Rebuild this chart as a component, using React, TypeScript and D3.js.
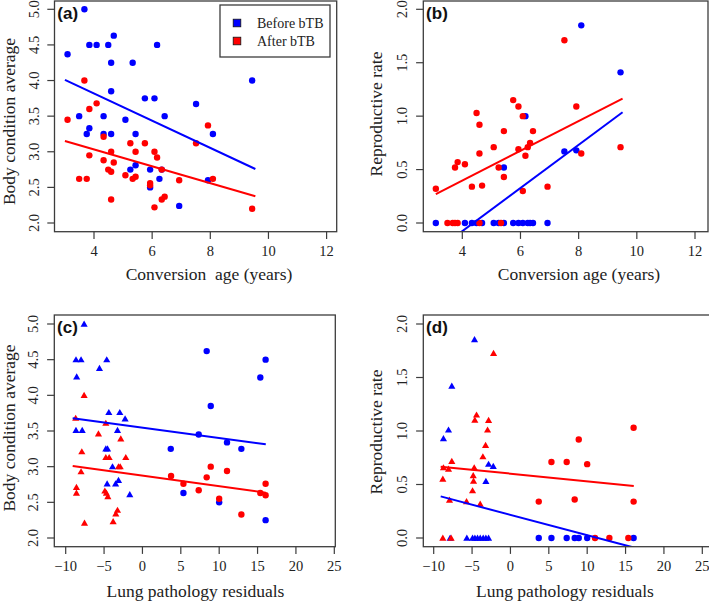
import React from "react";
import * as d3 from "d3";

// ---------- DATA ----------
// Panel (a): conversion age vs body condition average
const aBefore: [number, number][] = [
  [3.67, 5.0], [3.09, 4.37], [3.84, 4.5], [4.09, 4.5], [4.49, 4.5], [4.68, 4.63], [6.17, 4.5],
  [4.59, 4.25], [5.33, 4.25], [9.44, 4.0], [4.59, 3.85], [5.75, 3.75], [6.08, 3.75], [7.51, 3.67],
  [3.49, 3.5], [4.33, 3.5], [6.43, 3.5], [5.08, 3.45], [3.84, 3.33], [3.75, 3.25], [4.33, 3.25],
  [4.59, 3.25], [5.43, 3.25], [8.09, 3.25], [5.43, 2.81], [5.25, 2.75], [5.93, 2.75], [6.33, 2.75],
  [6.25, 2.62], [7.92, 2.6], [5.93, 2.5], [6.93, 2.24],
];
const aAfter: [number, number][] = [
  [3.67, 4.0], [3.84, 3.6], [4.09, 3.68], [3.09, 3.45], [4.33, 3.21], [5.25, 3.12], [5.75, 3.12],
  [7.51, 3.12], [7.92, 3.37], [4.59, 3.0], [5.43, 3.0], [6.08, 3.0], [3.84, 2.95], [6.17, 2.92],
  [4.33, 2.88], [4.68, 2.85], [4.49, 2.75], [4.59, 2.72], [6.33, 2.75], [5.08, 2.67], [5.33, 2.62],
  [5.43, 2.65], [3.49, 2.62], [3.75, 2.62], [8.09, 2.62], [6.93, 2.6], [5.93, 2.56], [5.93, 2.53],
  [4.59, 2.33], [6.33, 2.33], [6.43, 2.37], [6.08, 2.22], [9.44, 2.2],
];
const aFitBefore: [number, number][] = [[3.0, 4.008], [9.55, 2.758]];
const aFitAfter: [number, number][] = [[3.0, 3.152], [9.55, 2.375]];

// Panel (b): conversion age vs reproductive rate
const bBefore: [number, number][] = [
  [3.09, 0], [4.09, 0], [4.33, 0], [4.49, 0], [4.68, 0], [5.08, 0], [5.25, 0], [5.43, 0],
  [5.75, 0], [5.93, 0], [6.08, 0], [6.25, 0], [6.33, 0], [6.43, 0], [6.93, 0],
  [5.43, 0.52], [6.17, 1.0], [7.51, 0.67], [7.92, 0.68], [8.09, 1.85], [9.44, 1.41],
];
const bAfter: [number, number][] = [
  [3.09, 0.32], [3.75, 0.52], [3.84, 0.57], [4.09, 0.55], [4.33, 0.34], [4.49, 1.03], [4.59, 0.92],
  [4.59, 0.65], [4.68, 0.35], [5.08, 0.71], [5.25, 0.52], [5.43, 0.86], [5.43, 0.43], [5.75, 1.15],
  [5.93, 1.09], [5.93, 0.69], [6.08, 1.0], [6.08, 0.3], [6.17, 0.63], [6.25, 0.71], [6.33, 0.75],
  [6.43, 0.86], [6.93, 0.34], [7.51, 1.71], [7.92, 1.09], [8.09, 0.65], [9.44, 0.71],
  [3.49, 0], [3.67, 0], [3.75, 0], [3.84, 0], [4.59, 0], [5.33, 0],
];
const bFitBefore: [number, number][] = [[3.09, -0.26], [9.51, 1.036]];
const bFitAfter: [number, number][] = [[3.09, 0.271], [9.51, 1.164]];

// Panel (c): lung pathology residuals vs body condition average
const cBeforeTri: [number, number][] = [
  [-7.6, 5.0], [-8.66, 4.5], [-8.0, 4.5], [-4.65, 4.5], [-5.6, 4.38], [-8.57, 4.26], [-4.38, 3.76],
  [-2.95, 3.76], [-2.26, 3.67], [-8.66, 3.51], [-7.85, 3.51], [-3.25, 3.51], [-4.77, 3.25],
  [-4.55, 3.25], [-3.9, 3.0], [-3.12, 2.81], [-3.5, 2.76], [-4.6, 2.76], [-1.65, 2.61],
];
const cBeforeDot: [number, number][] = [
  [8.37, 4.62], [16.05, 4.5], [15.36, 4.25], [8.9, 3.85], [7.33, 3.45], [11.02, 3.34],
  [12.89, 3.25], [3.69, 3.25], [5.34, 2.63], [10.0, 2.5], [16.05, 2.25],
];
const cAfterTri: [number, number][] = [
  [-7.6, 4.0], [-8.7, 3.68], [-4.77, 3.61], [-5.73, 3.46], [-2.82, 3.39], [-7.9, 3.21],
  [-4.77, 3.13], [-4.34, 3.13], [-2.17, 3.13], [-3.12, 3.0], [-2.9, 3.0], [-8.0, 2.93],
  [-8.6, 2.71], [-8.6, 2.63], [-4.9, 2.66], [-4.7, 2.63], [-4.51, 2.58], [-3.25, 2.39],
  [-3.47, 2.34], [-7.55, 2.21], [-3.82, 2.23],
];
const cAfterDot: [number, number][] = [
  [3.73, 2.87], [8.9, 3.0], [11.02, 2.94], [8.37, 2.85], [5.34, 2.76], [7.33, 2.67],
  [10.0, 2.55], [12.89, 2.33], [15.36, 2.63], [16.05, 2.76], [16.05, 2.6],
];
const cFitBefore: [number, number][] = [[-9.09, 3.678], [16.07, 3.313]];
const cFitAfter: [number, number][] = [[-9.09, 3.009], [16.07, 2.636]];

// Panel (d): lung pathology residuals vs reproductive rate
const dBeforeTri: [number, number][] = [
  [-4.68, 1.854], [-7.64, 1.42], [-8.07, 1.01], [-8.73, 0.93], [-2.85, 0.69], [-2.24, 0.67],
  [-3.2, 0.53], [-7.86, 0], [-5.68, 0], [-4.94, 0], [-4.63, 0], [-4.29, 0], [-3.94, 0],
  [-3.55, 0], [-3.2, 0], [-2.85, 0],
];
const dBeforeDot: [number, number][] = [
  [3.69, 0], [5.34, 0], [7.33, 0], [8.37, 0], [8.9, 0], [10.0, 0], [16.05, 0],
];
const dAfterTri: [number, number][] = [
  [-2.2, 1.726], [-4.42, 1.15], [-4.64, 1.103], [-2.85, 1.1], [-2.98, 1.01], [-3.24, 0.866],
  [-3.59, 0.76], [-7.64, 0.717], [-8.73, 0.657], [-8.07, 0.645], [-4.72, 0.657], [-4.85, 0.583],
  [-4.81, 0.533], [-8.81, 0.551], [-4.94, 0.442], [-7.94, 0.355], [-5.72, 0.34], [-3.94, 0.318],
  [-8.81, 0], [-7.73, 0],
];
const dAfterDot: [number, number][] = [
  [16.05, 1.03], [8.9, 0.92], [5.34, 0.71], [7.33, 0.71], [10.0, 0.69], [8.37, 0.36],
  [3.69, 0.34], [16.05, 0.34], [11.02, 0], [12.89, 0], [15.36, 0],
];
const dFitBefore: [number, number][] = [[-9.09, 0.389], [16.07, -0.089]];
const dFitAfter: [number, number][] = [[-9.09, 0.667], [16.07, 0.486]];

const ageTicks = [4, 6, 8, 10, 12];
const lungTicks = [-10, -5, 0, 5, 10, 15, 20, 25];
const bodyTicks = [2.0, 2.5, 3.0, 3.5, 4.0, 4.5, 5.0];
const reproTicks = [0.0, 0.5, 1.0, 1.5, 2.0];
const legendLabels = ["Before bTB", "After bTB"];

// ---------- STYLE ----------
const BLUE = "#0000ff";
const RED = "#ff0000";
const FRAME = "#3c3c3c";
const SERIF = "'Liberation Serif', 'Times New Roman', serif";
const SANS = "'Liberation Sans', Arial, sans-serif";

type Pt = [number, number];
interface PanelSpec {
  id: string;
  label: string;
  box: { x0: number; x1: number; y0: number; y1: number };
  xMap: [number[], number[]];
  yMap: [number[], number[]];
  xTicks: number[];
  yTicks: number[];
  xTitle: string;
  xTitlePos: [number, number];
  yTitle: string;
  yTitlePos: [number, number];
  series: { pts: Pt[]; color: string; shape: "dot" | "tri" }[];
  fits: { pts: Pt[]; color: string }[];
  legend?: boolean;
}

const panels: PanelSpec[] = [
  {
    id: "a", label: "(a)",
    box: { x0: 54.5, x1: 336.7, y0: 1, y1: 231.7 },
    xMap: [[4, 12], [94, 326.6]], yMap: [[2, 5], [223, 9.3]],
    xTicks: ageTicks, yTicks: bodyTicks,
    xTitle: "Conversion\u00a0 age (years)", xTitlePos: [209, 280],
    yTitle: "Body condition average", yTitlePos: [15, 121.5],
    series: [
      { pts: aBefore, color: BLUE, shape: "dot" },
      { pts: aAfter, color: RED, shape: "dot" },
    ],
    fits: [{ pts: aFitBefore, color: BLUE }, { pts: aFitAfter, color: RED }],
    legend: true,
  },
  {
    id: "b", label: "(b)",
    box: { x0: 423.3, x1: 708, y0: 1, y1: 231.7 },
    xMap: [[4, 12], [462.3, 695]], yMap: [[0, 2], [223, 9.3]],
    xTicks: ageTicks, yTicks: reproTicks,
    xTitle: "Conversion age (years)", xTitlePos: [579, 280],
    yTitle: "Reproductive rate", yTitlePos: [382, 114],
    series: [
      { pts: bBefore, color: BLUE, shape: "dot" },
      { pts: bAfter, color: RED, shape: "dot" },
    ],
    fits: [{ pts: bFitBefore, color: BLUE }, { pts: bFitAfter, color: RED }],
  },
  {
    id: "c", label: "(c)",
    box: { x0: 54.3, x1: 335.3, y0: 315, y1: 546.7 },
    xMap: [[-10, 25], [65.7, 334.3]], yMap: [[2, 5], [538, 324]],
    xTicks: lungTicks, yTicks: bodyTicks,
    xTitle: "Lung pathology residuals", xTitlePos: [195.5, 597],
    yTitle: "Body condition average", yTitlePos: [15, 428],
    series: [
      { pts: cBeforeTri, color: BLUE, shape: "tri" },
      { pts: cBeforeDot, color: BLUE, shape: "dot" },
      { pts: cAfterTri, color: RED, shape: "tri" },
      { pts: cAfterDot, color: RED, shape: "dot" },
    ],
    fits: [{ pts: cFitBefore, color: BLUE }, { pts: cFitAfter, color: RED }],
  },
  {
    id: "d", label: "(d)",
    box: { x0: 423.3, x1: 715, y0: 315, y1: 546.7 },
    xMap: [[-10, 25], [433.7, 702.3]], yMap: [[0, 2], [538, 324]],
    xTicks: lungTicks, yTicks: reproTicks,
    xTitle: "Lung pathology residuals", xTitlePos: [565, 597],
    yTitle: "Reproductive rate", yTitlePos: [382, 432],
    series: [
      { pts: dBeforeTri, color: BLUE, shape: "tri" },
      { pts: dBeforeDot, color: BLUE, shape: "dot" },
      { pts: dAfterTri, color: RED, shape: "tri" },
      { pts: dAfterDot, color: RED, shape: "dot" },
    ],
    fits: [{ pts: dFitBefore, color: BLUE }, { pts: dFitAfter, color: RED }],
  },
];

const triPath = d3.symbol().type(d3.symbolTriangle).size(22)();
const fmtY = d3.format(".1f");
const fmtX = (v: number) => (v < 0 ? "\u2212" + Math.abs(v) : String(v));

function Panel({ p }: { p: PanelSpec }) {
  const x = d3.scaleLinear().domain(p.xMap[0]).range(p.xMap[1]);
  const y = d3.scaleLinear().domain(p.yMap[0]).range(p.yMap[1]);
  const { x0, x1, y0, y1 } = p.box;
  const line = d3.line<Pt>().x((d) => x(d[0])).y((d) => y(d[1]));
  const clipId = "clip-" + p.id;
  const xt = p.xTicks.filter((t) => x(t) >= x0 - 0.5 && x(t) <= x1 + 0.5);
  const yt = p.yTicks.filter((t) => y(t) >= y0 - 0.5 && y(t) <= y1 + 0.5);
  return (
    <g>
      <defs>
        <clipPath id={clipId}>
          <rect x={x0} y={y0} width={x1 - x0} height={y1 - y0} />
        </clipPath>
      </defs>
      <g clipPath={`url(#${clipId})`}>
        {p.series.map((s, si) =>
          s.pts.map((d, i) =>
            s.shape === "dot" ? (
              <circle key={`${si}-${i}`} cx={x(d[0])} cy={y(d[1])} r={3.2} fill={s.color} />
            ) : (
              <path key={`${si}-${i}`} d={triPath as string}
                transform={`translate(${x(d[0])},${y(d[1]) + 0.6})`} fill={s.color} />
            )
          )
        )}
        {p.fits.map((f, i) => (
          <path key={i} d={line(f.pts) as string} stroke={f.color} strokeWidth={2} fill="none" />
        ))}
      </g>
      <rect x={x0} y={y0} width={x1 - x0} height={y1 - y0} fill="none" stroke={FRAME} strokeWidth={1.3} />
      {xt.map((t) => (
        <g key={"x" + t}>
          <line x1={x(t)} x2={x(t)} y1={y1} y2={y1 + 7.2} stroke={FRAME} strokeWidth={1.2} />
          <text x={x(t)} y={y1 + 23.8} textAnchor="middle" fontFamily={SERIF} fontSize={14.5} fill="#222">
            {fmtX(t)}
          </text>
        </g>
      ))}
      {yt.map((t) => (
        <g key={"y" + t}>
          <line x1={x0 - 7.2} x2={x0} y1={y(t)} y2={y(t)} stroke={FRAME} strokeWidth={1.2} />
          <text transform={`translate(${x0 - 16},${y(t)}) rotate(-90)`} textAnchor="middle"
            fontFamily={SERIF} fontSize={14.5} fill="#222">
            {fmtY(t)}
          </text>
        </g>
      ))}
      <text x={p.xTitlePos[0]} y={p.xTitlePos[1]} textAnchor="middle" fontFamily={SERIF} fontSize={17.5} fill="#222">
        {p.xTitle}
      </text>
      <text transform={`translate(${p.yTitlePos[0]},${p.yTitlePos[1]}) rotate(-90)`} textAnchor="middle"
        fontFamily={SERIF} fontSize={17.5} fill="#222">
        {p.yTitle}
      </text>
      <text x={x0 + 2.8} y={y0 + 17.5} fontFamily={SANS} fontWeight="bold" fontSize={17} fill="#111">
        {p.label}
      </text>
      {p.legend && (
        <g>
          <rect x={220} y={5} width={110} height={52} fill="white" stroke={FRAME} strokeWidth={1.3} />
          {[BLUE, RED].map((c, i) => (
            <g key={i}>
              <rect x={233.2} y={19.2 + i * 18} width={7.6} height={7.6} fill={c} stroke="#111" strokeWidth={0.8} />
              <text x={257} y={28 + i * 18} fontFamily={SERIF} fontSize={14} fill="#222">
                {legendLabels[i]}
              </text>
            </g>
          ))}
        </g>
      )}
    </g>
  );
}

export default function App() {
  return (
    <svg width={709} height={603} viewBox="0 0 709 603"
      style={{ position: "absolute", left: 0, top: 0, background: "white" }}>
      <rect x={0} y={0} width={709} height={603} fill="white" />
      {panels.map((p) => (
        <Panel key={p.id} p={p} />
      ))}
    </svg>
  );
}
